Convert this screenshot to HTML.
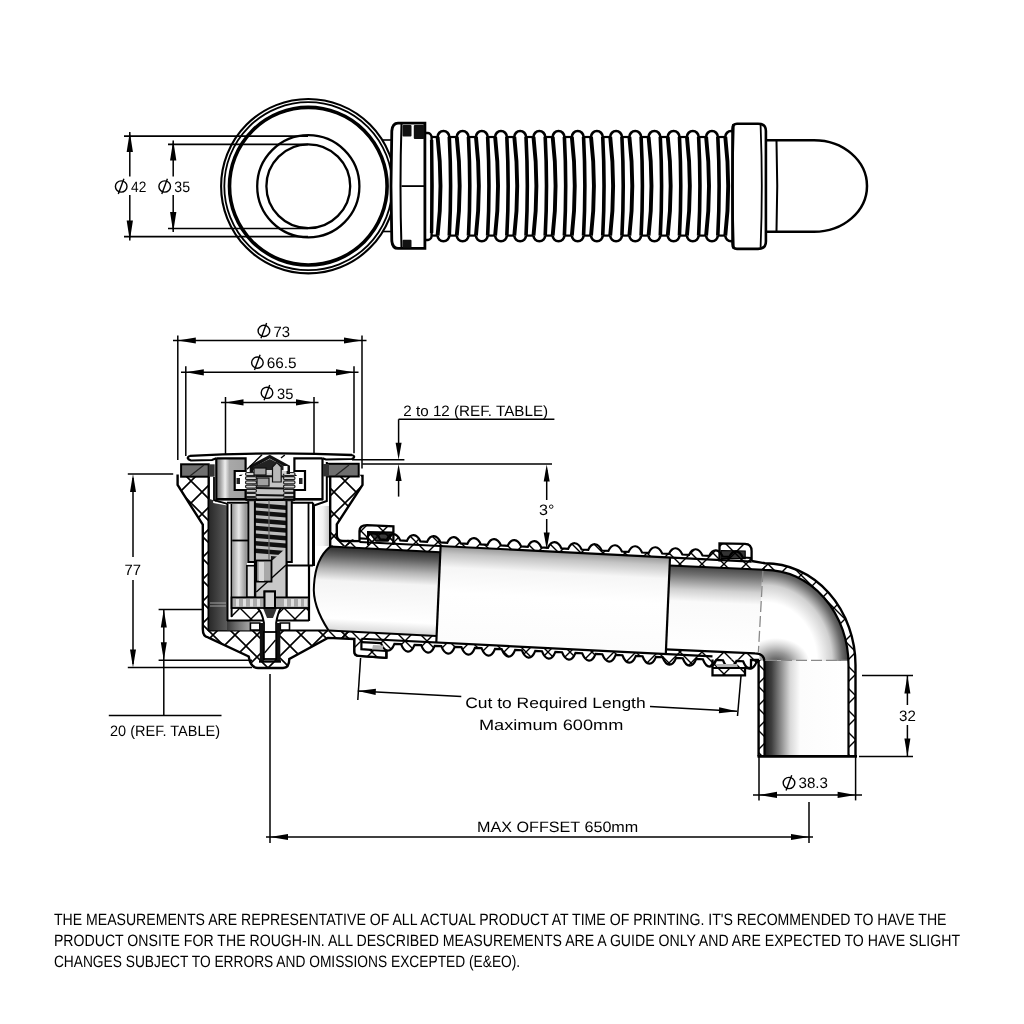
<!DOCTYPE html>
<html><head><meta charset="utf-8"><style>
html,body{margin:0;padding:0;background:#fff;width:1024px;height:1024px;overflow:hidden}
text{text-rendering:geometricPrecision}
svg{display:block;will-change:transform}
</style></head><body>
<svg width="1024" height="1024" viewBox="0 0 1024 1024">
<defs>
<pattern id="hatch" patternUnits="userSpaceOnUse" width="22" height="22" x="4" y="8">
<path d="M-11,-11 L33,33 M33,-11 L-11,33 M-11,11 L11,33 M11,-11 L33,11 M-11,11 L11,-11 M11,33 L33,11" stroke="#000" stroke-width="1.6"/>
</pattern>
<pattern id="hatch1" patternUnits="userSpaceOnUse" width="22" height="22" x="9" y="3">
<path d="M-11,-11 L33,33 M33,-11 L-11,33 M-11,11 L11,33 M11,-11 L33,11 M-11,11 L11,-11 M11,33 L33,11" stroke="#000" stroke-width="1.4"/>
</pattern>
<linearGradient id="pipe1" x1="0" y1="0" x2="0" y2="1">
<stop offset="0" stop-color="#2e2e2e"/><stop offset="0.18" stop-color="#7a7a7a"/><stop offset="0.38" stop-color="#f4f4f4"/><stop offset="0.8" stop-color="#ffffff"/><stop offset="1" stop-color="#d8d8d8"/>
</linearGradient>
<linearGradient id="pipe2" x1="0" y1="0" x2="0" y2="1">
<stop offset="0" stop-color="#c8c8c8"/><stop offset="0.15" stop-color="#f6f6f6"/><stop offset="1" stop-color="#ffffff"/>
</linearGradient>
<linearGradient id="pipe3" x1="0" y1="0" x2="0" y2="1">
<stop offset="0" stop-color="#3a3a3a"/><stop offset="0.3" stop-color="#9a9a9a"/><stop offset="0.55" stop-color="#f2f2f2"/><stop offset="1" stop-color="#ffffff"/>
</linearGradient>
<linearGradient id="leg" x1="0" y1="0" x2="1" y2="0">
<stop offset="0" stop-color="#1e1e1e"/><stop offset="0.08" stop-color="#3e3e3e"/><stop offset="0.3" stop-color="#d8d8d8"/><stop offset="0.42" stop-color="#fcfcfc"/><stop offset="1" stop-color="#ffffff"/>
</linearGradient>
<radialGradient id="elbow" cx="0" cy="0" r="1" gradientUnits="userSpaceOnUse" gradientTransform="translate(765,662) scale(84,96)">
<stop offset="0" stop-color="#fff"/><stop offset="0.62" stop-color="#fff"/><stop offset="0.8" stop-color="#d0d0d0"/><stop offset="0.92" stop-color="#6a6a6a"/><stop offset="1" stop-color="#3a3a3a"/>
</radialGradient>
<radialGradient id="blob" cx="0" cy="0" r="1" gradientUnits="userSpaceOnUse" gradientTransform="translate(776,664) scale(34,26)">
<stop offset="0" stop-color="#333" stop-opacity="0.95"/><stop offset="0.45" stop-color="#555" stop-opacity="0.6"/><stop offset="1" stop-color="#888" stop-opacity="0"/>
</radialGradient>
<linearGradient id="sleeve" x1="0" y1="0" x2="1" y2="0">
<stop offset="0" stop-color="#2a2a2a"/><stop offset="0.6" stop-color="#707070"/><stop offset="1" stop-color="#9a9a9a"/>
</linearGradient>
<linearGradient id="cap" x1="0" y1="0" x2="1" y2="0">
<stop offset="0" stop-color="#606060"/><stop offset="0.35" stop-color="#9a9a9a"/><stop offset="0.55" stop-color="#f0f0f0"/><stop offset="0.7" stop-color="#a0a0a0"/><stop offset="1" stop-color="#8a8a8a"/>
</linearGradient>
</defs>
<rect width="1024" height="1024" fill="#fff"/>
<circle cx="308.3" cy="186.2" r="87.2" fill="#fff" stroke="#000" stroke-width="2.1"/>
<circle cx="308.3" cy="186.2" r="84" fill="none" stroke="#000" stroke-width="1.8"/>
<circle cx="308.3" cy="186.2" r="78.8" fill="none" stroke="#000" stroke-width="3.6"/>
<circle cx="308.3" cy="186.2" r="51.1" fill="none" stroke="#000" stroke-width="2.3"/>
<circle cx="308.3" cy="186.2" r="41.9" fill="none" stroke="#000" stroke-width="2.3"/>
<line x1="124" y1="136.1" x2="308" y2="136.1" stroke="#000" stroke-width="1.6" />
<line x1="124" y1="236.6" x2="308" y2="236.6" stroke="#000" stroke-width="1.6" />
<line x1="168" y1="144.4" x2="308" y2="144.4" stroke="#000" stroke-width="1.6" />
<line x1="168" y1="228.5" x2="308" y2="228.5" stroke="#000" stroke-width="1.6" />
<line x1="129.8" y1="132" x2="129.8" y2="176.5" stroke="#000" stroke-width="1.5" />
<line x1="129.8" y1="195" x2="129.8" y2="240.5" stroke="#000" stroke-width="1.5" />
<path d="M129.8,132 L132.95,152 L126.65,152 Z" fill="#000"/>
<path d="M129.8,240.5 L126.65,220.5 L132.95,220.5 Z" fill="#000"/>
<line x1="173.2" y1="140.5" x2="173.2" y2="176.5" stroke="#000" stroke-width="1.5" />
<line x1="173.2" y1="195" x2="173.2" y2="232" stroke="#000" stroke-width="1.5" />
<path d="M173.2,140.5 L176.35,160.5 L170.05,160.5 Z" fill="#000"/>
<path d="M173.2,232 L170.05,212 L176.35,212 Z" fill="#000"/>
<ellipse cx="121.2" cy="186.5" rx="5.8" ry="5.6" fill="none" stroke="#000" stroke-width="1.4"/>
<line x1="123.9" y1="178.7" x2="118.3" y2="193.9" stroke="#000" stroke-width="1.4" />
<text x="131" y="191.7" font-size="15" font-family='"Liberation Sans", sans-serif' text-anchor="start" textLength="15.3" lengthAdjust="spacingAndGlyphs" >42</text>
<ellipse cx="164.7" cy="186.5" rx="5.8" ry="5.6" fill="none" stroke="#000" stroke-width="1.4"/>
<line x1="167.4" y1="178.7" x2="161.8" y2="193.9" stroke="#000" stroke-width="1.4" />
<text x="174.3" y="191.7" font-size="15" font-family='"Liberation Sans", sans-serif' text-anchor="start" textLength="15.7" lengthAdjust="spacingAndGlyphs" >35</text>
<line x1="383" y1="140" x2="392" y2="140" stroke="#000" stroke-width="1.6" />
<line x1="383" y1="231.5" x2="392" y2="231.5" stroke="#000" stroke-width="1.6" />
<path d="M437.6,137 A5.85,6 0 0 1 449.3,137" fill="none" stroke="#000" stroke-width="2.6" />
<path d="M449.3,235.6 A5.85,5.7 0 0 1 437.6,235.6" fill="none" stroke="#000" stroke-width="2.6" />
<path d="M437.6,137 Q443.4,186 437.6,235.6" fill="none" stroke="#000" stroke-width="3.9" />
<path d="M449.3,137 Q451.9,186 449.3,235.6" fill="none" stroke="#000" stroke-width="3.6" />
<line x1="449.3" y1="137" x2="456.78" y2="137" stroke="#000" stroke-width="2.2" />
<line x1="449.3" y1="235.6" x2="456.78" y2="235.6" stroke="#000" stroke-width="2.2" />
<path d="M456.78,137 A5.85,6 0 0 1 468.48,137" fill="none" stroke="#000" stroke-width="2.6" />
<path d="M468.48,235.6 A5.85,5.7 0 0 1 456.78,235.6" fill="none" stroke="#000" stroke-width="2.6" />
<path d="M456.78,137 Q462.58,186 456.78,235.6" fill="none" stroke="#000" stroke-width="3.9" />
<path d="M468.48,137 Q471.08,186 468.48,235.6" fill="none" stroke="#000" stroke-width="3.6" />
<line x1="468.48" y1="137" x2="475.96" y2="137" stroke="#000" stroke-width="2.2" />
<line x1="468.48" y1="235.6" x2="475.96" y2="235.6" stroke="#000" stroke-width="2.2" />
<path d="M475.96,137 A5.85,6 0 0 1 487.66,137" fill="none" stroke="#000" stroke-width="2.6" />
<path d="M487.66,235.6 A5.85,5.7 0 0 1 475.96,235.6" fill="none" stroke="#000" stroke-width="2.6" />
<path d="M475.96,137 Q481.76,186 475.96,235.6" fill="none" stroke="#000" stroke-width="3.9" />
<path d="M487.66,137 Q490.26,186 487.66,235.6" fill="none" stroke="#000" stroke-width="3.6" />
<line x1="487.66" y1="137" x2="495.14" y2="137" stroke="#000" stroke-width="2.2" />
<line x1="487.66" y1="235.6" x2="495.14" y2="235.6" stroke="#000" stroke-width="2.2" />
<path d="M495.14,137 A5.85,6 0 0 1 506.84,137" fill="none" stroke="#000" stroke-width="2.6" />
<path d="M506.84,235.6 A5.85,5.7 0 0 1 495.14,235.6" fill="none" stroke="#000" stroke-width="2.6" />
<path d="M495.14,137 Q500.94,186 495.14,235.6" fill="none" stroke="#000" stroke-width="3.9" />
<path d="M506.84,137 Q509.44,186 506.84,235.6" fill="none" stroke="#000" stroke-width="3.6" />
<line x1="506.84" y1="137" x2="514.32" y2="137" stroke="#000" stroke-width="2.2" />
<line x1="506.84" y1="235.6" x2="514.32" y2="235.6" stroke="#000" stroke-width="2.2" />
<path d="M514.32,137 A5.85,6 0 0 1 526.02,137" fill="none" stroke="#000" stroke-width="2.6" />
<path d="M526.02,235.6 A5.85,5.7 0 0 1 514.32,235.6" fill="none" stroke="#000" stroke-width="2.6" />
<path d="M514.32,137 Q520.12,186 514.32,235.6" fill="none" stroke="#000" stroke-width="3.9" />
<path d="M526.02,137 Q528.62,186 526.02,235.6" fill="none" stroke="#000" stroke-width="3.6" />
<line x1="526.02" y1="137" x2="533.5" y2="137" stroke="#000" stroke-width="2.2" />
<line x1="526.02" y1="235.6" x2="533.5" y2="235.6" stroke="#000" stroke-width="2.2" />
<path d="M533.5,137 A5.85,6 0 0 1 545.2,137" fill="none" stroke="#000" stroke-width="2.6" />
<path d="M545.2,235.6 A5.85,5.7 0 0 1 533.5,235.6" fill="none" stroke="#000" stroke-width="2.6" />
<path d="M533.5,137 Q539.3,186 533.5,235.6" fill="none" stroke="#000" stroke-width="3.9" />
<path d="M545.2,137 Q547.8,186 545.2,235.6" fill="none" stroke="#000" stroke-width="3.6" />
<line x1="545.2" y1="137" x2="552.68" y2="137" stroke="#000" stroke-width="2.2" />
<line x1="545.2" y1="235.6" x2="552.68" y2="235.6" stroke="#000" stroke-width="2.2" />
<path d="M552.68,137 A5.85,6 0 0 1 564.38,137" fill="none" stroke="#000" stroke-width="2.6" />
<path d="M564.38,235.6 A5.85,5.7 0 0 1 552.68,235.6" fill="none" stroke="#000" stroke-width="2.6" />
<path d="M552.68,137 Q558.48,186 552.68,235.6" fill="none" stroke="#000" stroke-width="3.9" />
<path d="M564.38,137 Q566.98,186 564.38,235.6" fill="none" stroke="#000" stroke-width="3.6" />
<line x1="564.38" y1="137" x2="571.86" y2="137" stroke="#000" stroke-width="2.2" />
<line x1="564.38" y1="235.6" x2="571.86" y2="235.6" stroke="#000" stroke-width="2.2" />
<path d="M571.86,137 A5.85,6 0 0 1 583.56,137" fill="none" stroke="#000" stroke-width="2.6" />
<path d="M583.56,235.6 A5.85,5.7 0 0 1 571.86,235.6" fill="none" stroke="#000" stroke-width="2.6" />
<path d="M571.86,137 Q577.66,186 571.86,235.6" fill="none" stroke="#000" stroke-width="3.9" />
<path d="M583.56,137 Q586.16,186 583.56,235.6" fill="none" stroke="#000" stroke-width="3.6" />
<line x1="583.56" y1="137" x2="591.04" y2="137" stroke="#000" stroke-width="2.2" />
<line x1="583.56" y1="235.6" x2="591.04" y2="235.6" stroke="#000" stroke-width="2.2" />
<path d="M591.04,137 A5.85,6 0 0 1 602.74,137" fill="none" stroke="#000" stroke-width="2.6" />
<path d="M602.74,235.6 A5.85,5.7 0 0 1 591.04,235.6" fill="none" stroke="#000" stroke-width="2.6" />
<path d="M591.04,137 Q596.84,186 591.04,235.6" fill="none" stroke="#000" stroke-width="3.9" />
<path d="M602.74,137 Q605.34,186 602.74,235.6" fill="none" stroke="#000" stroke-width="3.6" />
<line x1="602.74" y1="137" x2="610.22" y2="137" stroke="#000" stroke-width="2.2" />
<line x1="602.74" y1="235.6" x2="610.22" y2="235.6" stroke="#000" stroke-width="2.2" />
<path d="M610.22,137 A5.85,6 0 0 1 621.92,137" fill="none" stroke="#000" stroke-width="2.6" />
<path d="M621.92,235.6 A5.85,5.7 0 0 1 610.22,235.6" fill="none" stroke="#000" stroke-width="2.6" />
<path d="M610.22,137 Q616.02,186 610.22,235.6" fill="none" stroke="#000" stroke-width="3.9" />
<path d="M621.92,137 Q624.52,186 621.92,235.6" fill="none" stroke="#000" stroke-width="3.6" />
<line x1="621.92" y1="137" x2="629.4" y2="137" stroke="#000" stroke-width="2.2" />
<line x1="621.92" y1="235.6" x2="629.4" y2="235.6" stroke="#000" stroke-width="2.2" />
<path d="M629.4,137 A5.85,6 0 0 1 641.1,137" fill="none" stroke="#000" stroke-width="2.6" />
<path d="M641.1,235.6 A5.85,5.7 0 0 1 629.4,235.6" fill="none" stroke="#000" stroke-width="2.6" />
<path d="M629.4,137 Q635.2,186 629.4,235.6" fill="none" stroke="#000" stroke-width="3.9" />
<path d="M641.1,137 Q643.7,186 641.1,235.6" fill="none" stroke="#000" stroke-width="3.6" />
<line x1="641.1" y1="137" x2="648.58" y2="137" stroke="#000" stroke-width="2.2" />
<line x1="641.1" y1="235.6" x2="648.58" y2="235.6" stroke="#000" stroke-width="2.2" />
<path d="M648.58,137 A5.85,6 0 0 1 660.28,137" fill="none" stroke="#000" stroke-width="2.6" />
<path d="M660.28,235.6 A5.85,5.7 0 0 1 648.58,235.6" fill="none" stroke="#000" stroke-width="2.6" />
<path d="M648.58,137 Q654.38,186 648.58,235.6" fill="none" stroke="#000" stroke-width="3.9" />
<path d="M660.28,137 Q662.88,186 660.28,235.6" fill="none" stroke="#000" stroke-width="3.6" />
<line x1="660.28" y1="137" x2="667.76" y2="137" stroke="#000" stroke-width="2.2" />
<line x1="660.28" y1="235.6" x2="667.76" y2="235.6" stroke="#000" stroke-width="2.2" />
<path d="M667.76,137 A5.85,6 0 0 1 679.46,137" fill="none" stroke="#000" stroke-width="2.6" />
<path d="M679.46,235.6 A5.85,5.7 0 0 1 667.76,235.6" fill="none" stroke="#000" stroke-width="2.6" />
<path d="M667.76,137 Q673.56,186 667.76,235.6" fill="none" stroke="#000" stroke-width="3.9" />
<path d="M679.46,137 Q682.06,186 679.46,235.6" fill="none" stroke="#000" stroke-width="3.6" />
<line x1="679.46" y1="137" x2="686.94" y2="137" stroke="#000" stroke-width="2.2" />
<line x1="679.46" y1="235.6" x2="686.94" y2="235.6" stroke="#000" stroke-width="2.2" />
<path d="M686.94,137 A5.85,6 0 0 1 698.64,137" fill="none" stroke="#000" stroke-width="2.6" />
<path d="M698.64,235.6 A5.85,5.7 0 0 1 686.94,235.6" fill="none" stroke="#000" stroke-width="2.6" />
<path d="M686.94,137 Q692.74,186 686.94,235.6" fill="none" stroke="#000" stroke-width="3.9" />
<path d="M698.64,137 Q701.24,186 698.64,235.6" fill="none" stroke="#000" stroke-width="3.6" />
<line x1="698.64" y1="137" x2="706.12" y2="137" stroke="#000" stroke-width="2.2" />
<line x1="698.64" y1="235.6" x2="706.12" y2="235.6" stroke="#000" stroke-width="2.2" />
<path d="M706.12,137 A5.85,6 0 0 1 717.82,137" fill="none" stroke="#000" stroke-width="2.6" />
<path d="M717.82,235.6 A5.85,5.7 0 0 1 706.12,235.6" fill="none" stroke="#000" stroke-width="2.6" />
<path d="M706.12,137 Q711.92,186 706.12,235.6" fill="none" stroke="#000" stroke-width="3.9" />
<path d="M717.82,137 Q720.42,186 717.82,235.6" fill="none" stroke="#000" stroke-width="3.6" />
<line x1="717.82" y1="137" x2="725.3" y2="137" stroke="#000" stroke-width="2.2" />
<line x1="717.82" y1="235.6" x2="725.3" y2="235.6" stroke="#000" stroke-width="2.2" />
<path d="M725.3,137 A5.85,6 0 0 1 737,137" fill="none" stroke="#000" stroke-width="2.6" />
<path d="M737,235.6 A5.85,5.7 0 0 1 725.3,235.6" fill="none" stroke="#000" stroke-width="2.6" />
<path d="M725.3,137 Q731.1,186 725.3,235.6" fill="none" stroke="#000" stroke-width="3.9" />
<path d="M737,137 Q739.6,186 737,235.6" fill="none" stroke="#000" stroke-width="3.6" />
<path d="M424,133 L428,133 A3.8,4.5 0 0 1 431.6,137.5 L431.6,235.5 A3.8,4.5 0 0 1 428,240 L424,240" fill="#fff" stroke="#000" stroke-width="2.4" />
<path d="M431.6,140 Q432.6,186 431.6,233" fill="none" stroke="#000" stroke-width="3.4" />
<line x1="431.6" y1="137" x2="437.6" y2="137" stroke="#000" stroke-width="2.2" />
<line x1="431.6" y1="235.6" x2="437.6" y2="235.6" stroke="#000" stroke-width="2.2" />
<path d="M398,123.2 L424.9,123.2 L424.9,248.4 L398,248.4 Q392.5,248.4 391.8,241 Q390.2,186 391.8,131 Q392.5,123.2 398,123.2 Z" fill="#fff" stroke="#000" stroke-width="2.8" />
<path d="M401.5,124 Q399.5,186 401.5,248" fill="none" stroke="#000" stroke-width="2" />
<line x1="401.5" y1="186.1" x2="425" y2="186.1" stroke="#000" stroke-width="1.8" />
<rect x="402.5" y="125" width="9" height="11.5" rx="1" fill="#111"/>
<rect x="413.8" y="125" width="10.5" height="14" rx="1" fill="#111"/>
<rect x="402.5" y="239.8" width="9" height="8" rx="1" fill="#111"/>
<path d="M765,140.2 L814,140.2 A53,45.8 0 0 1 814,231.8 L765,231.8" fill="#fff" stroke="#000" stroke-width="2.5" />
<path d="M776.5,141 Q778,186 776.5,231" fill="none" stroke="#000" stroke-width="2" />
<path d="M737,123.7 L758,123.7 Q765.9,123.7 765.9,131 L765.9,241.5 Q765.9,248.9 758,248.9 L737,248.9 Q732.5,248.9 732.5,244 L732.5,128.5 Q732.5,123.7 737,123.7 Z" fill="#fff" stroke="#000" stroke-width="2.6" />
<path d="M760.6,125 Q763,186 760.6,247.5" fill="none" stroke="#000" stroke-width="1.8" />
<path d="M733.5,124 Q731.5,186 733.5,248.5" fill="none" stroke="#000" stroke-width="2.4" />
<path d="M177.6,474.5 L177.6,485 L202.8,524.7 L202.8,629 Q202.8,636.5 208,637.4 L248.7,656.5 Q250.5,668 258,668 L283,668 Q289.3,668 289.3,659 L327.8,637.9 L354.4,639 L354.4,651.6 Q354.4,655.9 359,655.9 L361.4,656 L361.4,638.7 L361.4,630 L345,630 L345,546 L361,542 L345,541 Q337.8,541 337.8,535 L337.8,524.3 L362.5,485 L362.5,474.8 Z" fill="url(#hatch)" stroke="none"/>
<path d="M208.7,476 L330.1,476 L330.1,547 L345,546 L345,630.5 L279.2,630.5 L279.2,623.5 L261.4,623.5 L261.4,630.5 L208.7,630.5 Z" fill="#fff" stroke="none"/>
<path d="M359.5,538.38 L366.65,538.73 C370.25,530.84 376.55,531.52 380.15,539.41 L386.8,539.74 C390.4,531.85 396.7,532.53 400.3,540.41 L406.95,540.75 C410.55,532.86 416.85,533.53 420.45,541.42 L427.1,541.75 C430.7,533.87 437,534.54 440.6,542.43 L447.25,542.76 C450.85,534.87 457.15,535.55 460.75,543.44 L467.4,543.77 C471,535.88 477.3,536.56 480.9,544.44 L487.55,544.78 C491.15,536.89 497.45,537.56 501.05,545.45 L507.7,545.78 C511.3,537.9 517.6,538.57 521.2,546.46 L527.85,546.79 C531.45,538.9 537.75,539.58 541.35,547.47 L548,547.8 C551.6,539.91 557.9,540.59 561.5,548.47 L568.15,548.81 C571.75,540.92 578.05,541.59 581.65,549.48 L588.3,549.81 C591.9,541.93 598.2,542.6 601.8,550.49 L608.45,550.82 C612.05,542.93 618.35,543.61 621.95,551.5 L628.6,551.83 C632.2,543.94 638.5,544.62 642.1,552.5 L648.75,552.84 C652.35,544.95 658.65,545.62 662.25,553.51 L668.9,553.84 C672.5,545.96 678.8,546.63 682.4,554.52 L689.05,554.85 C692.65,546.96 698.95,547.64 702.55,555.53 L709.2,555.86 C712.8,547.97 719.1,548.65 722.7,556.53 L729.35,556.87 C732.95,548.98 739.25,549.65 742.85,557.54 L752,558 L751.6,561 L765,563.3 L765,569.8 L669.5,565.5 L440.6,552.33 L330.2,546.6 L337.8,541 Z" fill="url(#hatch1)" stroke="none"/>
<path d="M328.6,630.5 L436.3,636.02 L665.8,649.4 L759,653.5 L759,670 L386.4,670 L386.4,657.8 L359,655.9 Q354.4,655.9 354.4,651.6 L354.4,639 L327.8,637.9 Z" fill="url(#hatch1)" stroke="none"/>
<path d="M361.4,642.17 L380.93,643.15 C384.73,652.67 390.63,653.34 394.43,643.82 L401.05,644.15 C404.85,653.67 410.75,654.35 414.55,644.83 L421.17,645.16 C424.97,654.68 430.87,655.35 434.67,645.83 L441.29,646.16 C445.09,655.68 450.99,656.36 454.79,646.84 L461.41,647.17 C465.21,656.69 471.11,657.37 474.91,647.85 L481.53,648.18 C485.33,657.7 491.23,658.37 495.03,648.85 L501.65,649.18 C505.45,658.7 511.35,659.38 515.15,649.86 L521.77,650.19 C525.57,659.71 531.47,660.38 535.27,650.86 L541.89,651.19 C545.69,660.71 551.59,661.39 555.39,651.87 L562.01,652.2 C565.81,661.72 571.71,662.4 575.51,652.88 L582.13,653.21 C585.93,662.73 591.83,663.4 595.63,653.88 L602.25,654.21 C606.05,663.73 611.95,664.41 615.75,654.89 L622.37,655.22 C626.17,664.74 632.07,665.41 635.87,655.89 L642.49,656.22 C646.29,665.74 652.19,666.42 655.99,656.9 L662.61,657.23 C666.41,666.75 672.31,667.43 676.11,657.91 L682.73,658.24 C686.53,667.76 692.43,668.43 696.23,658.91 L702.85,659.24 C706.65,668.76 712.55,669.44 716.35,659.92 L722.97,660.25 C726.77,669.77 732.67,670.44 736.47,660.92 L743.09,661.25 C746.89,670.77 752.79,671.45 756.59,661.93 L759,662.05 L759,700 L361.4,700 Z" fill="#fff" stroke="none"/>
<linearGradient id="g_seg1" gradientUnits="userSpaceOnUse" x1="400" y1="550.3" x2="395.8" y2="634.2"><stop offset="0" stop-color="#2e2e2e"/><stop offset="0.1" stop-color="#5c5c5c"/><stop offset="0.26" stop-color="#b4b4b4"/><stop offset="0.4" stop-color="#f4f4f4"/><stop offset="0.85" stop-color="#fff"/><stop offset="1" stop-color="#d6d6d6"/></linearGradient>
<linearGradient id="g_seg2" gradientUnits="userSpaceOnUse" x1="550" y1="549.5" x2="545" y2="646"><stop offset="0" stop-color="#8a8a8a"/><stop offset="0.1" stop-color="#c4c4c4"/><stop offset="0.24" stop-color="#f6f6f6"/><stop offset="0.5" stop-color="#fff"/><stop offset="1" stop-color="#fcfcfc"/></linearGradient>
<linearGradient id="g_seg3" gradientUnits="userSpaceOnUse" x1="715" y1="567" x2="711" y2="652"><stop offset="0" stop-color="#444"/><stop offset="0.1" stop-color="#707070"/><stop offset="0.28" stop-color="#d0d0d0"/><stop offset="0.42" stop-color="#fafafa"/><stop offset="1" stop-color="#fff"/></linearGradient>
<path d="M440.6,546.03 L670,557.5 L665.8,653.99 L436.3,642.52 Z" fill="url(#g_seg2)" stroke="none"/>
<path d="M669.5,565.5 L765,569.8 L765,653.8 L665.8,649.4 Z" fill="url(#g_seg3)" stroke="none"/>
<path d="M762,569.8 L765,569.8 A83.5,95 0 0 1 848.5,665 L848.5,756.4 L765,756.4 L765,662 Q765,653.5 759,653.3 Z" fill="url(#elbow)" stroke="none"/>
<rect x="765" y="661" width="83.5" height="95.4" fill="url(#leg)"/>
<path d="M759.5,630 L820,630 L820,660.4 L759.5,660.4 Z" fill="url(#blob)"/>
<radialGradient id="g_blob" cx="785" cy="650" r="28" gradientUnits="userSpaceOnUse"><stop offset="0" stop-color="#444" stop-opacity="0.9"/><stop offset="1" stop-color="#444" stop-opacity="0"/></radialGradient>
<path d="M751.6,561 L765,563.3 A90.5,102 0 0 1 855.5,665 L855.5,756.4 L848.5,756.4 L848.5,665 A83.5,95 0 0 0 765,569.8 L751.6,569 Z" fill="url(#hatch1)" stroke="none"/>
<path d="M758.6,660 L765,660 L765,756.4 L758.6,756.4 Z" fill="url(#hatch1)" stroke="none"/>
<line x1="762.9" y1="571" x2="758.4" y2="652" stroke="#8a8a8a" stroke-width="1.3" stroke-dasharray="11,4"/>
<line x1="766" y1="660.4" x2="848" y2="660.4" stroke="#8a8a8a" stroke-width="1.3" stroke-dasharray="11,4"/>
<path d="M330.2,546.6 L440.6,552.33 L436.3,636.02 L328.6,630.5 C318.5,615 312.5,600 314,585 C315,568 321,554 330.2,546.6 Z" fill="url(#g_seg1)" stroke="none"/>
<path d="M177.6,474.5 L177.6,485 L202.8,524.7 L202.8,629 Q202.8,636.5 208,637.4 L248.7,656.5 Q250.5,668 258,668 L283,668 Q289.3,668 289.3,659 L327.8,637.9 L354.4,639 L354.4,651.6 Q354.4,655.9 359,655.9 L386.4,657.8" fill="none" stroke="#000" stroke-width="2.4" />
<path d="M362.5,474.8 L362.5,485 L336.8,524.3 L336.8,535 Q336.8,541 343,541 L360,541.1" fill="none" stroke="#000" stroke-width="2.4" />
<line x1="208.7" y1="476" x2="208.7" y2="631" stroke="#000" stroke-width="2.4" />
<line x1="330.2" y1="476" x2="330.2" y2="547.5" stroke="#000" stroke-width="2.4" />
<line x1="208" y1="630.5" x2="261.4" y2="630.5" stroke="#000" stroke-width="2.2" />
<line x1="279.2" y1="630.5" x2="328.6" y2="630.5" stroke="#000" stroke-width="2.2" />
<path d="M328.6,630.5 C318.5,615 312.5,600 314,585 C315,568 321,554 330.2,546.6" fill="none" stroke="#000" stroke-width="2.0" />
<line x1="330.2" y1="546.6" x2="440.6" y2="552.33" stroke="#000" stroke-width="2.0" />
<line x1="328.6" y1="630.5" x2="436.3" y2="636.02" stroke="#000" stroke-width="2.0" />
<line x1="359.5" y1="541.98" x2="751.6" y2="561.58" stroke="#000" stroke-width="2.2" />
<line x1="361.4" y1="638.77" x2="712.5" y2="656.33" stroke="#000" stroke-width="2.2" />
<line x1="440.6" y1="546.03" x2="436.3" y2="642.52" stroke="#000" stroke-width="2.2" />
<line x1="670" y1="557.5" x2="665.8" y2="653.99" stroke="#000" stroke-width="2.2" />
<path d="M370,533.5 L392.5,534 L388,541 L376,541 Z" fill="#3a3a3a" stroke="#000" stroke-width="1.4"/>
<path d="M721,550.5 L745.2,551 L745.2,558.6 L721,558.6 Z" fill="#333" stroke="#000" stroke-width="1.2"/>
<path d="M354.4,639 L361.4,639 L361.4,649.2 L386.4,651 L386.4,657.8 L359,655.9 Q354.4,655.9 354.4,651.6 Z" fill="#fff"/>
<path d="M354.4,639 L361.4,639 L361.4,649.2 L386.4,651 L386.4,657.8 L359,655.9 Q354.4,655.9 354.4,651.6 Z" fill="url(#hatch1)"/>
<path d="M712.5,659.6 L758.6,659.6 L758.6,662 L751,662 L751,668 L745,668 L745,675.4 L712.5,675.4 Z" fill="#fff"/>
<path d="M712.5,659.6 L758.6,659.6 L758.6,662 L751,662 L751,668 L745,668 L745,675.4 L712.5,675.4 Z" fill="url(#hatch1)"/>
<path d="M719.5,543.3 L745,543.8 Q751.6,544 751.6,551 L751.6,561.6 L719.5,560 Z" fill="url(#hatch1)"/>
<path d="M359.5,541 L359.5,531 Q359.5,525.1 366.9,525.1 L393.4,526.25 L393.4,545 L359.5,542 Z" fill="url(#hatch1)"/>
<path d="M354.4,639 L354.4,651.6 Q354.4,655.9 359,655.9 L386.4,657.8 L386.4,650" fill="none" stroke="#000" stroke-width="2.3"/>
<path d="M359.5,538.38 L366.65,538.73 C370.25,530.84 376.55,531.52 380.15,539.41 L386.8,539.74 C390.4,531.85 396.7,532.53 400.3,540.41 L406.95,540.75 C410.55,532.86 416.85,533.53 420.45,541.42 L427.1,541.75 C430.7,533.87 437,534.54 440.6,542.43 L447.25,542.76 C450.85,534.87 457.15,535.55 460.75,543.44 L467.4,543.77 C471,535.88 477.3,536.56 480.9,544.44 L487.55,544.78 C491.15,536.89 497.45,537.56 501.05,545.45 L507.7,545.78 C511.3,537.9 517.6,538.57 521.2,546.46 L527.85,546.79 C531.45,538.9 537.75,539.58 541.35,547.47 L548,547.8 C551.6,539.91 557.9,540.59 561.5,548.47 L568.15,548.81 C571.75,540.92 578.05,541.59 581.65,549.48 L588.3,549.81 C591.9,541.93 598.2,542.6 601.8,550.49 L608.45,550.82 C612.05,542.93 618.35,543.61 621.95,551.5 L628.6,551.83 C632.2,543.94 638.5,544.62 642.1,552.5 L648.75,552.84 C652.35,544.95 658.65,545.62 662.25,553.51 L668.9,553.84 C672.5,545.96 678.8,546.63 682.4,554.52 L689.05,554.85 C692.65,546.96 698.95,547.64 702.55,555.53 L709.2,555.86 C712.8,547.97 719.1,548.65 722.7,556.53 L729.35,556.87 C732.95,548.98 739.25,549.65 742.85,557.54 L752,558" fill="none" stroke="#000" stroke-width="2.2" />
<path d="M361.4,642.17 L380.93,643.15 C384.73,652.67 390.63,653.34 394.43,643.82 L401.05,644.15 C404.85,653.67 410.75,654.35 414.55,644.83 L421.17,645.16 C424.97,654.68 430.87,655.35 434.67,645.83 L441.29,646.16 C445.09,655.68 450.99,656.36 454.79,646.84 L461.41,647.17 C465.21,656.69 471.11,657.37 474.91,647.85 L481.53,648.18 C485.33,657.7 491.23,658.37 495.03,648.85 L501.65,649.18 C505.45,658.7 511.35,659.38 515.15,649.86 L521.77,650.19 C525.57,659.71 531.47,660.38 535.27,650.86 L541.89,651.19 C545.69,660.71 551.59,661.39 555.39,651.87 L562.01,652.2 C565.81,661.72 571.71,662.4 575.51,652.88 L582.13,653.21 C585.93,662.73 591.83,663.4 595.63,653.88 L602.25,654.21 C606.05,663.73 611.95,664.41 615.75,654.89 L622.37,655.22 C626.17,664.74 632.07,665.41 635.87,655.89 L642.49,656.22 C646.29,665.74 652.19,666.42 655.99,656.9 L662.61,657.23 C666.41,666.75 672.31,667.43 676.11,657.91 L682.73,658.24 C686.53,667.76 692.43,668.43 696.23,658.91 L702.85,659.24 C706.65,668.76 712.55,669.44 716.35,659.92 L722.97,660.25 C726.77,669.77 732.67,670.44 736.47,660.92 L743.09,661.25 C746.89,670.77 752.79,671.45 756.59,661.93 L759,662.05" fill="none" stroke="#000" stroke-width="2.2" />
<path d="M751.6,561 L765,563.3 A90.5,102 0 0 1 855.5,665 L855.5,756.4" fill="none" stroke="#000" stroke-width="2.4" />
<path d="M669.5,565.5 L765,569.8 A83.5,95 0 0 1 848.5,665 L848.5,756.4" fill="none" stroke="#000" stroke-width="2.2" />
<path d="M665.8,649.4 L755,653.3 Q764.5,653.5 764.5,662 L764.5,756.4" fill="none" stroke="#000" stroke-width="2.2" />
<line x1="758.6" y1="660" x2="758.6" y2="756.4" stroke="#000" stroke-width="2.4" />
<line x1="757.5" y1="756.4" x2="857" y2="756.4" stroke="#000" stroke-width="2.6" />
<path d="M359.5,541 L359.5,531 Q359.5,525.1 366.9,525.1 L393.4,526.25 L393.4,545" fill="none" stroke="#000" stroke-width="2.3"/>
<path d="M368,545 L368,532 L393.4,532.5" fill="none" stroke="#000" stroke-width="2"/>
<path d="M719.5,561.5 L719.5,543.3 L745,543.8 Q751.6,544 751.6,551 L751.6,561" fill="none" stroke="#000" stroke-width="2.3"/>
<path d="M712.5,659.6 L712.5,675.4 L745,675.4 L745,668 L751,668 L751,660 L759,660" fill="#fff" fill-opacity="0" stroke="#000" stroke-width="2.3"/>
<path d="M716,664 L738,664 L736,669 L718,669 Z" fill="#b5b5b5"/>
<line x1="712.5" y1="668" x2="745" y2="668" stroke="#000" stroke-width="2.0" />
<path d="M361.4,638.7 L361.4,649.2 L386.4,651" fill="none" stroke="#000" stroke-width="2.2"/>
<path d="M373,645 L384,645.5 L382,649.5 L372,649.5 Z" fill="#b5b5b5"/>
<line x1="386.4" y1="650" x2="386.4" y2="657.8" stroke="#000" stroke-width="2.2" />
<linearGradient id="g_sl" x1="0" y1="0" x2="1" y2="0"><stop offset="0" stop-color="#3a3a3a"/><stop offset="0.35" stop-color="#666"/><stop offset="1" stop-color="#a8a8a8"/></linearGradient>
<path d="M209.6,499 L227,504.5 L227,620.2 L250.4,620.2 L250.4,630.2 L209.6,630.2 Z" fill="url(#sleeve)" stroke="none"/>
<rect x="227" y="620.2" width="23.4" height="10" fill="url(#g_sl)"/>
<line x1="210" y1="603" x2="226" y2="603" stroke="#bbb" stroke-width="0.8" />
<line x1="210" y1="606" x2="226" y2="606" stroke="#bbb" stroke-width="0.8" />
<path d="M214,476 L214,502.4 L227.4,504.8" fill="none" stroke="#fff" stroke-width="1.6" />
<linearGradient id="g_rs" x1="0" y1="0" x2="1" y2="0"><stop offset="0" stop-color="#fff"/><stop offset="0.6" stop-color="#f2f2f2"/><stop offset="1" stop-color="#c8c8c8"/></linearGradient>
<rect x="314" y="506" width="15" height="40" fill="url(#g_rs)"/>
<path d="M214,477 L214,500 L227.5,503.8" fill="none" stroke="#000" stroke-width="1.8" />
<path d="M326.8,462 L326.8,501 L314,505.5 L314,566" fill="none" stroke="#000" stroke-width="2.0" />
<line x1="227.5" y1="504" x2="227.5" y2="621" stroke="#000" stroke-width="2.0" />
<line x1="231.6" y1="504" x2="231.6" y2="617" stroke="#000" stroke-width="2.0" />
<line x1="227" y1="620.5" x2="309" y2="620.5" stroke="#000" stroke-width="2.2" />
<line x1="309" y1="566" x2="309" y2="621" stroke="#000" stroke-width="2.2" />
<line x1="313.1" y1="502.7" x2="313.1" y2="566" stroke="#000" stroke-width="2.2" />
<line x1="286" y1="565.5" x2="313.1" y2="565.5" stroke="#000" stroke-width="2.0" />
<line x1="308.5" y1="502.7" x2="308.5" y2="566" stroke="#000" stroke-width="1.8" />
<line x1="227" y1="502.7" x2="313.1" y2="502.7" stroke="#000" stroke-width="2.0" />
<path d="M231.6,608 L309,608 L309,620.5 L231.6,620.5 Z" fill="url(#hatch1)"/>
<path d="M257.4,608 Q262,612 263.9,622.6 L263.9,632 L276.2,632 L276.2,622.6 Q278,612 280.9,608 Z" fill="#fff" stroke="none"/>
<path d="M257.4,608 Q262,612 263.9,622.6 L263.9,660" fill="none" stroke="#000" stroke-width="2.0" />
<path d="M280.9,608 Q278,612 276.2,622.6 L276.2,660" fill="none" stroke="#000" stroke-width="2.0" />
<linearGradient id="g_lc" x1="0" y1="0" x2="1" y2="0"><stop offset="0" stop-color="#9a9a9a"/><stop offset="0.45" stop-color="#e8e8e8"/><stop offset="0.7" stop-color="#bbb"/><stop offset="1" stop-color="#8a8a8a"/></linearGradient>
<rect x="232.2" y="504" width="14.7" height="93.4" fill="url(#g_lc)"/>
<line x1="232.2" y1="540.5" x2="248" y2="540.5" stroke="#000" stroke-width="1.8" />
<path d="M248.3,500 L291.8,500 L291.8,562 L286.5,562 L286.5,597.4 L256.3,597.4 L256.3,562 L248.3,562 Z" fill="#bdbdbd" stroke="#000" stroke-width="2"/>
<path d="M255,503 L286.5,505.5 L286.5,510 L255,507.5 Z" fill="#111"/>
<path d="M255,510.6 L286.5,513.1 L286.5,517.6 L255,515.1 Z" fill="#111"/>
<path d="M255,518.2 L286.5,520.7 L286.5,525.2 L255,522.7 Z" fill="#111"/>
<path d="M255,525.8 L286.5,528.3 L286.5,532.8 L255,530.3 Z" fill="#111"/>
<path d="M255,533.4 L286.5,535.9 L286.5,540.4 L255,537.9 Z" fill="#111"/>
<path d="M255,541 L286.5,543.5 L286.5,548 L255,545.5 Z" fill="#111"/>
<path d="M255,548.6 L286.5,551.1 L286.5,555.6 L255,553.1 Z" fill="#111"/>
<path d="M271,556 L286.5,557.5 L286.5,561.5 L271,560 Z" fill="#1a1a1a"/>
<path d="M271,563.6 L286.5,565.1 L286.5,569.1 L271,567.6 Z" fill="#1a1a1a"/>
<path d="M271,571.2 L286.5,572.7 L286.5,576.7 L271,575.2 Z" fill="#1a1a1a"/>
<rect x="246.9" y="565.7" width="9.4" height="31.7" fill="#e2e2e2" stroke="#000" stroke-width="1.6"/>
<path d="M256.3,575 L286,548 L286,597.4 L256.3,597.4 Z" fill="#c8c8c8"/>
<line x1="256.3" y1="592" x2="286" y2="565" stroke="#000" stroke-width="1.4" />
<rect x="256.3" y="560.5" width="15.2" height="21.1" fill="#a8a8a8" stroke="#000" stroke-width="1.8"/>
<rect x="259" y="562" width="5" height="19" fill="#d8d8d8"/>
<line x1="254.9" y1="500" x2="254.9" y2="597" stroke="#000" stroke-width="2.0" />
<line x1="286.5" y1="500" x2="286.5" y2="597" stroke="#000" stroke-width="2.0" />
<line x1="269" y1="468" x2="269" y2="560" stroke="#666" stroke-width="1.2" />
<rect x="252" y="467" width="36" height="33" fill="#c4c4c4"/>
<rect x="245.5" y="472.5" width="11" height="3" rx="1.5" fill="#cfcfcf" stroke="#222" stroke-width="1.2"/>
<rect x="283.5" y="472.5" width="11.5" height="3" rx="1.5" fill="#cfcfcf" stroke="#222" stroke-width="1.2"/>
<rect x="245.5" y="476.7" width="11" height="3" rx="1.5" fill="#cfcfcf" stroke="#222" stroke-width="1.2"/>
<rect x="283.5" y="476.7" width="11.5" height="3" rx="1.5" fill="#cfcfcf" stroke="#222" stroke-width="1.2"/>
<rect x="245.5" y="480.9" width="11" height="3" rx="1.5" fill="#cfcfcf" stroke="#222" stroke-width="1.2"/>
<rect x="283.5" y="480.9" width="11.5" height="3" rx="1.5" fill="#cfcfcf" stroke="#222" stroke-width="1.2"/>
<rect x="245.5" y="485.1" width="11" height="3" rx="1.5" fill="#cfcfcf" stroke="#222" stroke-width="1.2"/>
<rect x="283.5" y="485.1" width="11.5" height="3" rx="1.5" fill="#cfcfcf" stroke="#222" stroke-width="1.2"/>
<rect x="245.5" y="489.3" width="11" height="3" rx="1.5" fill="#cfcfcf" stroke="#222" stroke-width="1.2"/>
<rect x="283.5" y="489.3" width="11.5" height="3" rx="1.5" fill="#cfcfcf" stroke="#222" stroke-width="1.2"/>
<rect x="245.5" y="493.5" width="11" height="3" rx="1.5" fill="#cfcfcf" stroke="#222" stroke-width="1.2"/>
<rect x="283.5" y="493.5" width="11.5" height="3" rx="1.5" fill="#cfcfcf" stroke="#222" stroke-width="1.2"/>
<rect x="245.5" y="497.7" width="11" height="3" rx="1.5" fill="#cfcfcf" stroke="#222" stroke-width="1.2"/>
<rect x="283.5" y="497.7" width="11.5" height="3" rx="1.5" fill="#cfcfcf" stroke="#222" stroke-width="1.2"/>
<path d="M251.4,472 L251.4,466.7 L269.8,456.6 L288.3,466.7 L288.3,474" fill="#d0d0d0" stroke="#111" stroke-width="3.4"/>
<path d="M253,467 L269.8,459 L286,467 L286,470 L253,470 Z" fill="#222"/>
<rect x="254" y="468" width="12" height="7" fill="#a0a0a0" stroke="#111" stroke-width="1.2"/>
<rect x="257" y="478" width="12" height="8" fill="#a0a0a0" stroke="#111" stroke-width="1.2"/>
<line x1="256" y1="476" x2="284" y2="476.5" stroke="#111" stroke-width="2.2" />
<line x1="256" y1="488" x2="284" y2="488.5" stroke="#111" stroke-width="2.2" />
<line x1="256" y1="495" x2="284" y2="495.5" stroke="#111" stroke-width="2.2" />
<path d="M272.5,467 L276.8,462.5 L281.2,467 L281.2,482 L272.5,482 Z" fill="#b8b8b8" stroke="#111" stroke-width="1.2"/>
<rect x="283.5" y="466" width="4" height="5" fill="#fff"/>
<rect x="264.5" y="591.5" width="10.5" height="16.5" fill="#d2d2d2" stroke="#000" stroke-width="2"/>
<path d="M263,608 L277,608 L273,618 L267,618 Z" fill="#333"/>
<rect x="231.6" y="597.4" width="77.4" height="10.6" fill="#a9a9a9" stroke="#000" stroke-width="1.8"/>
<rect x="236" y="599" width="3" height="7.5" fill="#e0e0e0"/>
<rect x="243" y="599" width="3" height="7.5" fill="#e0e0e0"/>
<rect x="250" y="599" width="3" height="7.5" fill="#e0e0e0"/>
<rect x="257" y="599" width="3" height="7.5" fill="#e0e0e0"/>
<rect x="284" y="599" width="3" height="7.5" fill="#e0e0e0"/>
<rect x="291" y="599" width="3" height="7.5" fill="#e0e0e0"/>
<rect x="298" y="599" width="3" height="7.5" fill="#e0e0e0"/>
<rect x="304" y="599" width="3" height="7.5" fill="#e0e0e0"/>
<rect x="264.5" y="591.5" width="10.5" height="16.5" fill="#d2d2d2" stroke="#000" stroke-width="2"/>
<path d="M250.4,623 L259.8,623 L259.8,630 L250.4,630 Z" fill="#fff" stroke="#000" stroke-width="1.6"/>
<path d="M280.3,623 L289.5,623 L289.5,630 L280.3,630 Z" fill="#fff" stroke="#000" stroke-width="1.6"/>
<rect x="259.8" y="623" width="4.1" height="39" fill="#111"/>
<rect x="276.2" y="623" width="4.1" height="39" fill="#111"/>
<rect x="263.9" y="632" width="12.3" height="27" fill="#fff" stroke="#000" stroke-width="1.8"/>
<line x1="264.5" y1="653" x2="275.5" y2="640" stroke="#000" stroke-width="1.3" />
<line x1="259" y1="661.5" x2="281" y2="661.5" stroke="#000" stroke-width="2.4" />
<linearGradient id="g_cap" x1="0" y1="0" x2="1" y2="0"><stop offset="0" stop-color="#7a7a7a"/><stop offset="0.12" stop-color="#999"/><stop offset="0.3" stop-color="#eee"/><stop offset="0.45" stop-color="#a8a8a8"/><stop offset="1" stop-color="#a0a0a0"/></linearGradient>
<path d="M216.3,458.3 L245.6,458.3 L245.6,471 L234.7,471 L234.7,490 L245.6,490 L245.6,499.2 L216.3,499.2 Z" fill="url(#g_cap)" stroke="#000" stroke-width="2.2"/>
<path d="M236.5,478 L240,478 L240,484 L236.5,484 Z" fill="#222"/>
<path d="M294.4,458.3 L322.5,458.3 L322.5,499.2 L294.4,499.2 L294.4,490 L305,490 L305,471 L294.4,471 Z" fill="#fff" stroke="#000" stroke-width="2.2"/>
<path d="M299,478 L302.5,478 L302.5,484 L299,484 Z" fill="#222"/>
<line x1="216" y1="499.5" x2="323" y2="499.5" stroke="#000" stroke-width="2.0" />
<path d="M190,455.8 Q200,455.2 216.3,454.5 L216.3,458.3 L212,460 L191,460.5 Q185,458.5 190,455.8 Z" fill="#fff" stroke="none"/>
<path d="M322.5,454.2 Q340,454.5 352,455 Q356.5,456.5 352,459 L326,459.5 L322.5,458.3 Z" fill="#fff" stroke="none"/>
<path d="M190,455.8 Q270,451.5 352,455" fill="none" stroke="#000" stroke-width="2.3" />
<path d="M216.3,458.3 L212,460 L191,460.5 Q185,458.5 190,455.8" fill="none" stroke="#000" stroke-width="2.2" />
<path d="M352,455 Q356.5,456.5 352,459 L326,459.5 L322.5,458.3" fill="none" stroke="#000" stroke-width="2.2" />
<line x1="247" y1="469.3" x2="262" y2="454.8" stroke="#000" stroke-width="1.4" />
<line x1="281" y1="458" x2="284.8" y2="455" stroke="#000" stroke-width="1.4" />
<rect x="181.1" y="464.3" width="27.6" height="12.4" fill="#6f6f6f" stroke="#000" stroke-width="2"/>
<line x1="190" y1="476" x2="204" y2="465" stroke="#222" stroke-width="1.2" />
<rect x="208.7" y="464.3" width="6" height="12.4" fill="#333"/>
<rect x="327" y="463.8" width="31.7" height="12.7" fill="#6f6f6f" stroke="#000" stroke-width="2"/>
<line x1="335" y1="476" x2="349" y2="465" stroke="#222" stroke-width="1.2" />
<rect x="323" y="464" width="6" height="12.4" fill="#333"/>
<line x1="177.8" y1="335.4" x2="177.8" y2="460" stroke="#000" stroke-width="1.5" />
<line x1="362" y1="335.4" x2="362" y2="468.5" stroke="#000" stroke-width="1.5" />
<line x1="173" y1="340.5" x2="366.5" y2="340.5" stroke="#000" stroke-width="1.5" />
<path d="M177.8,340.5 L195.8,337.4 L195.8,343.6 Z" fill="#000"/>
<path d="M362,340.5 L344,343.6 L344,337.4 Z" fill="#000"/>
<ellipse cx="263.9" cy="330.9" rx="5.8" ry="5.6" fill="none" stroke="#000" stroke-width="1.4"/>
<line x1="266.6" y1="323.1" x2="261" y2="338.3" stroke="#000" stroke-width="1.4" />
<text x="273.5" y="336.9" font-size="15" font-family='"Liberation Sans", sans-serif' text-anchor="start" textLength="16.5" lengthAdjust="spacingAndGlyphs" >73</text>
<line x1="185.8" y1="366.3" x2="185.8" y2="456" stroke="#000" stroke-width="1.5" />
<line x1="354" y1="366.3" x2="354" y2="453.3" stroke="#000" stroke-width="1.5" />
<line x1="181" y1="372.3" x2="358.5" y2="372.3" stroke="#000" stroke-width="1.5" />
<path d="M185.8,372.3 L203.8,369.2 L203.8,375.4 Z" fill="#000"/>
<path d="M354,372.3 L336,375.4 L336,369.2 Z" fill="#000"/>
<ellipse cx="257.4" cy="362.6" rx="5.8" ry="5.6" fill="none" stroke="#000" stroke-width="1.4"/>
<line x1="260.1" y1="354.8" x2="254.5" y2="370" stroke="#000" stroke-width="1.4" />
<text x="266.8" y="368.4" font-size="15" font-family='"Liberation Sans", sans-serif' text-anchor="start" textLength="29.8" lengthAdjust="spacingAndGlyphs" >66.5</text>
<line x1="225.5" y1="397" x2="225.5" y2="455" stroke="#000" stroke-width="1.5" />
<line x1="314" y1="397" x2="314" y2="455" stroke="#000" stroke-width="1.5" />
<line x1="221" y1="402.4" x2="318.5" y2="402.4" stroke="#000" stroke-width="1.5" />
<path d="M225.5,402.4 L243.5,399.3 L243.5,405.5 Z" fill="#000"/>
<path d="M314,402.4 L296,405.5 L296,399.3 Z" fill="#000"/>
<ellipse cx="267" cy="392.8" rx="5.8" ry="5.6" fill="none" stroke="#000" stroke-width="1.4"/>
<line x1="269.7" y1="385" x2="264.1" y2="400.2" stroke="#000" stroke-width="1.4" />
<text x="277" y="398.5" font-size="15" font-family='"Liberation Sans", sans-serif' text-anchor="start" textLength="16.3" lengthAdjust="spacingAndGlyphs" >35</text>
<text x="403.3" y="415.8" font-size="15" font-family='"Liberation Sans", sans-serif' text-anchor="start" textLength="144.8" lengthAdjust="spacingAndGlyphs" >2 to 12 (REF. TABLE)</text>
<line x1="398.6" y1="419.3" x2="554.4" y2="419.3" stroke="#000" stroke-width="1.5" />
<line x1="398.6" y1="419.3" x2="398.6" y2="445" stroke="#000" stroke-width="1.5" />
<path d="M398.6,459.8 L395.6,442.8 L401.6,442.8 Z" fill="#000"/>
<line x1="352" y1="459.8" x2="404.4" y2="459.8" stroke="#000" stroke-width="1.5" />
<line x1="362.3" y1="464.1" x2="552" y2="464.1" stroke="#000" stroke-width="1.5" />
<path d="M398.6,464.1 L401.6,481.1 L395.6,481.1 Z" fill="#000"/>
<line x1="398.6" y1="475" x2="398.6" y2="496.6" stroke="#000" stroke-width="1.5" />
<line x1="546.7" y1="470" x2="546.7" y2="500" stroke="#000" stroke-width="1.5" />
<path d="M546.7,464.5 L549.7,481.5 L543.7,481.5 Z" fill="#000"/>
<text x="539" y="515.4" font-size="15" font-family='"Liberation Sans", sans-serif' text-anchor="start" textLength="15.4" lengthAdjust="spacingAndGlyphs" >3°</text>
<line x1="546.7" y1="519" x2="546.7" y2="535" stroke="#000" stroke-width="1.5" />
<path d="M546.7,549.4 L543.7,532.4 L549.7,532.4 Z" fill="#000"/>
<line x1="127.8" y1="474" x2="173.2" y2="474" stroke="#000" stroke-width="1.5" />
<line x1="127.8" y1="667.6" x2="252" y2="667.6" stroke="#000" stroke-width="1.5" />
<line x1="133" y1="478" x2="133" y2="557" stroke="#000" stroke-width="1.5" />
<line x1="133" y1="580" x2="133" y2="664" stroke="#000" stroke-width="1.5" />
<path d="M133,474 L136,492 L130,492 Z" fill="#000"/>
<path d="M133,667.6 L130,649.6 L136,649.6 Z" fill="#000"/>
<text x="124.5" y="574.5" font-size="15" font-family='"Liberation Sans", sans-serif' text-anchor="start" textLength="16.5" lengthAdjust="spacingAndGlyphs" >77</text>
<line x1="158.6" y1="609.6" x2="202" y2="609.6" stroke="#000" stroke-width="1.5" />
<line x1="158.6" y1="660.3" x2="252" y2="660.3" stroke="#000" stroke-width="1.5" />
<line x1="163.8" y1="609.6" x2="163.8" y2="715.6" stroke="#000" stroke-width="1.5" />
<path d="M163.8,609.6 L166.8,627.6 L160.8,627.6 Z" fill="#000"/>
<path d="M163.8,660.3 L160.8,642.3 L166.8,642.3 Z" fill="#000"/>
<line x1="108.8" y1="715.6" x2="221.5" y2="715.6" stroke="#000" stroke-width="1.5" />
<text x="110" y="735.5" font-size="15" font-family='"Liberation Sans", sans-serif' text-anchor="start" textLength="110" lengthAdjust="spacingAndGlyphs" >20 (REF. TABLE)</text>
<line x1="270" y1="674" x2="270" y2="843" stroke="#000" stroke-width="1.5" />
<line x1="809" y1="802" x2="809" y2="843" stroke="#000" stroke-width="1.5" />
<line x1="266" y1="837" x2="813" y2="837" stroke="#000" stroke-width="1.5" />
<path d="M270,837 L288,833.9 L288,840.1 Z" fill="#000"/>
<path d="M809,837 L791,840.1 L791,833.9 Z" fill="#000"/>
<text x="477" y="831.6" font-size="15" font-family='"Liberation Sans", sans-serif' text-anchor="start" textLength="161.3" lengthAdjust="spacingAndGlyphs" >MAX OFFSET 650mm</text>
<line x1="360.6" y1="658" x2="357.8" y2="700" stroke="#000" stroke-width="1.5" />
<line x1="741" y1="676" x2="737.5" y2="716" stroke="#000" stroke-width="1.5" />
<line x1="357.8" y1="690.9" x2="461.3" y2="696.4" stroke="#000" stroke-width="1.5" />
<line x1="650" y1="706.6" x2="737" y2="711.2" stroke="#000" stroke-width="1.5" />
<path d="M357.8,690.9 L375.94,688.76 L375.61,694.95 Z" fill="#000"/>
<path d="M737,711.2 L718.86,713.34 L719.19,707.15 Z" fill="#000"/>
<text x="465.2" y="708.1" font-size="15" font-family='"Liberation Sans", sans-serif' text-anchor="start" textLength="180.5" lengthAdjust="spacingAndGlyphs" >Cut to Required Length</text>
<text x="478.9" y="730" font-size="15" font-family='"Liberation Sans", sans-serif' text-anchor="start" textLength="144.5" lengthAdjust="spacingAndGlyphs" >Maximum 600mm</text>
<line x1="862" y1="675.4" x2="913" y2="675.4" stroke="#000" stroke-width="1.5" />
<line x1="859" y1="756.4" x2="913" y2="756.4" stroke="#000" stroke-width="1.5" />
<line x1="907.4" y1="675.4" x2="907.4" y2="705" stroke="#000" stroke-width="1.5" />
<line x1="907.4" y1="725" x2="907.4" y2="756.4" stroke="#000" stroke-width="1.5" />
<path d="M907.4,675.4 L910.4,693.4 L904.4,693.4 Z" fill="#000"/>
<path d="M907.4,756.4 L904.4,738.4 L910.4,738.4 Z" fill="#000"/>
<text x="899" y="720.7" font-size="15" font-family='"Liberation Sans", sans-serif' text-anchor="start" textLength="16.8" lengthAdjust="spacingAndGlyphs" >32</text>
<line x1="759" y1="756" x2="759" y2="800.4" stroke="#000" stroke-width="1.5" />
<line x1="855.6" y1="756" x2="855.6" y2="800.4" stroke="#000" stroke-width="1.5" />
<line x1="753" y1="794.9" x2="862" y2="794.9" stroke="#000" stroke-width="1.5" />
<path d="M759,794.9 L777,791.8 L777,798 Z" fill="#000"/>
<path d="M855.6,794.9 L837.6,798 L837.6,791.8 Z" fill="#000"/>
<ellipse cx="789" cy="783" rx="5.8" ry="5.6" fill="none" stroke="#000" stroke-width="1.4"/>
<line x1="791.7" y1="775.2" x2="786.1" y2="790.4" stroke="#000" stroke-width="1.4" />
<text x="798.5" y="788.3" font-size="15" font-family='"Liberation Sans", sans-serif' text-anchor="start" textLength="29.4" lengthAdjust="spacingAndGlyphs" >38.3</text>
<text x="53.9" y="924.6" font-size="16.5" font-family='"Liberation Sans", sans-serif' text-anchor="start" textLength="892.6" lengthAdjust="spacingAndGlyphs" >THE MEASUREMENTS ARE REPRESENTATIVE OF ALL ACTUAL PRODUCT AT TIME OF PRINTING. IT'S RECOMMENDED TO HAVE THE</text>
<text x="53.9" y="945.7" font-size="16.5" font-family='"Liberation Sans", sans-serif' text-anchor="start" textLength="906.2" lengthAdjust="spacingAndGlyphs" >PRODUCT ONSITE FOR THE ROUGH-IN. ALL DESCRIBED MEASUREMENTS ARE A GUIDE ONLY AND ARE EXPECTED TO HAVE SLIGHT</text>
<text x="53.9" y="966.5" font-size="16.5" font-family='"Liberation Sans", sans-serif' text-anchor="start" textLength="466.3" lengthAdjust="spacingAndGlyphs" >CHANGES SUBJECT TO ERRORS AND OMISSIONS EXCEPTED (E&amp;EO).</text>
</svg>
</body></html>
